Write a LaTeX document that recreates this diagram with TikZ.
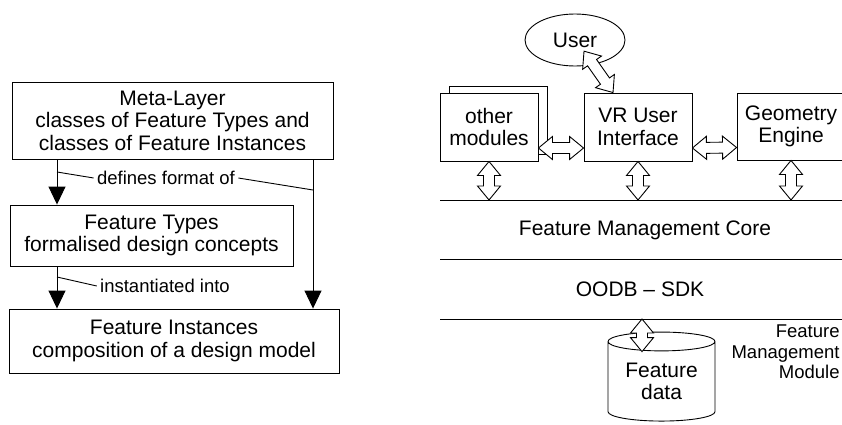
\documentclass[tikz,border=0pt]{standalone}
\usepackage{fontspec}
\setmainfont{Liberation Sans}
\usetikzlibrary{arrows.meta, shapes.geometric, calc}

% hollow double-headed block arrow from #1 to #2
\newcommand\dblarrow[2]{%
  \coordinate (da) at (#1);
  \coordinate (db) at (#2);
  \draw[fill=white] (da)
    -- ($(da)!14pt!(db)!11.5pt!90:(db)$) -- ($(da)!14pt!(db)!5.5pt!90:(db)$)
    -- ($(db)!14pt!(da)!5.5pt!-90:(da)$) -- ($(db)!14pt!(da)!11.5pt!-90:(da)$)
    -- (db)
    -- ($(db)!14pt!(da)!11.5pt!90:(da)$) -- ($(db)!14pt!(da)!5.5pt!90:(da)$)
    -- ($(da)!14pt!(db)!5.5pt!-90:(db)$) -- ($(da)!14pt!(db)!11.5pt!-90:(db)$)
    -- cycle;
}

\begin{document}
\begin{tikzpicture}[x=1pt, y=-1pt, line width=0.9pt,
  every node/.style={font=\fontsize{21}{22.5}\selectfont},
  box/.style={draw, rectangle, align=center, inner sep=0pt, fill=white},
  lbl/.style={font=\fontsize{18.5}{20.5}\selectfont, inner sep=3pt},
  arr/.style={-{Triangle[length=18pt, width=17pt]}}]
  \useasboundingbox (0,0) rectangle (842,425);

  % left: the three layers
  \node[box, minimum width=321pt, minimum height=77pt] (meta) at (172.5,120.5) {Meta-Layer\\classes of Feature Types and\\classes of Feature Instances};
  \node[box, minimum width=283pt, minimum height=61pt] (types) at (151.5,235.5) {Feature Types\\formalised design concepts};
  \node[box, minimum width=330pt, minimum height=64pt] (inst) at (174,341) {Feature Instances\\composition of a design model};

  \coordinate (la) at (57,0);
  \coordinate (ra) at (313,0);
  \draw[arr] (meta.south -| la) -- (types.north -| la);
  \draw[arr] (types.south -| la) -- (inst.north -| la);
  \draw[arr] (meta.south -| ra) -- (inst.north -| ra);

  \node[lbl] (def) at (166,178) {defines format of};
  \coordinate (d1) at (57,172);
  \coordinate (d2) at (313,190);
  \draw (d1) -- (def.west);
  \draw (def.east) -- (d2);
  \node[lbl] (ins) at (165,286) {instantiated into};
  \coordinate (i1) at (57,277);
  \draw (i1) -- (ins.west);

  % right: module architecture
  \node[draw, ellipse, minimum width=100pt, minimum height=52pt, inner sep=0pt] (user) at (575,40) {User};
  \node[box, minimum width=98pt, minimum height=68pt] (otherbk) at (498,120) {};
  \node[box, minimum width=98pt, minimum height=68pt] (other) at (489,127) {other\\modules};
  \node[box, minimum width=108pt, minimum height=68pt] (vr) at (638,127) {VR User\\Interface};
  \node[box, minimum width=108pt, minimum height=67pt] (geo) at (791,126.5) {Geometry\\Engine};

  \draw (440,200) -- (850,200);
  \draw (440,259) -- (850,259);
  \draw (440,319) -- (850,319);
  \node (core) at (645,230) {Feature Management Core};
  \node (oodb) at (640,289) {OODB – SDK};
  \coordinate (ctop) at (0,200);
  \coordinate (cbot) at (642,319);

  \node[draw, cylinder, shape border rotate=90, aspect=0.26, minimum width=107pt, minimum height=89pt, inner sep=0pt, align=center] (data) at (661.5,381.5) {Feature\\data};

  \dblarrow{[yshift=-21pt]other.east}{[yshift=-21pt]vr.west}
  \dblarrow{[yshift=-21pt]vr.east}{[yshift=-21pt]geo.west}
  \dblarrow{other.south}{other.south |- ctop}
  \dblarrow{vr.south}{vr.south |- ctop}
  \dblarrow{geo.south}{geo.south |- ctop}
  \dblarrow{[xshift=2pt, yshift=15pt]user.-75}{[xshift=-25pt]vr.north}
  \dblarrow{cbot}{[xshift=-19.5pt, yshift=-20pt]data.north}

  \node[lbl, align=right, anchor=east, inner sep=1pt] (fmm) at (841,352) {Feature\\Management\\Module};
\end{tikzpicture}
\end{document}
